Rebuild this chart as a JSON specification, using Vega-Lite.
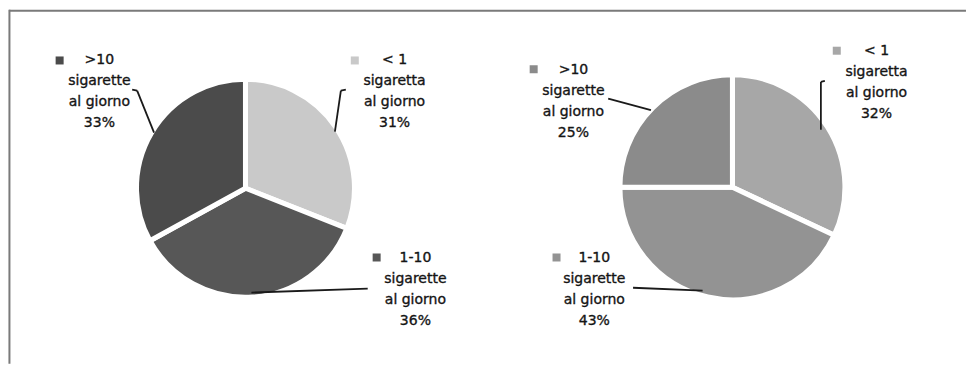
{
  "$schema": "https://vega.github.io/schema/vega-lite/v6.json",
  "width": 967,
  "height": 365,
  "autosize": {"type": "fit", "contains": "padding"},
  "padding": 0,
  "background": "white",
  "config": {
    "view": {"stroke": null},
    "text": {"font": "DejaVu Sans", "fontSize": 14, "lineHeight": 21, "lineBreak": "\n", "align": "center", "baseline": "alphabetic", "color": "#151515", "stroke": "#151515", "strokeWidth": 0.35},
    "rule": {"color": "#1a1a1a", "strokeWidth": 1.8}
  },
  "data": {
    "values": [
      {"grafico": "A", "categoria": "<1", "chiave": "A <1", "valore": 31, "ordine": 1, "etichetta": "< 1\nsigaretta\nal giorno\n31%"},
      {"grafico": "A", "categoria": "1-10", "chiave": "A 1-10", "valore": 36, "ordine": 2, "etichetta": "1-10\nsigarette\nal giorno\n36%"},
      {"grafico": "A", "categoria": ">10", "chiave": "A >10", "valore": 33, "ordine": 3, "etichetta": ">10\nsigarette\nal giorno\n33%"},
      {"grafico": "B", "categoria": "<1", "chiave": "B <1", "valore": 32, "ordine": 1, "etichetta": "< 1\nsigaretta\nal giorno\n32%"},
      {"grafico": "B", "categoria": "1-10", "chiave": "B 1-10", "valore": 43, "ordine": 2, "etichetta": "1-10\nsigarette\nal giorno\n43%"},
      {"grafico": "B", "categoria": ">10", "chiave": "B >10", "valore": 25, "ordine": 3, "etichetta": ">10\nsigarette\nal giorno\n25%"}
    ]
  },
  "layer": [
    {
      "data": {"values": [{}]},
      "mark": {"type": "rule", "color": "#7a7a7a", "strokeWidth": 2},
      "encoding": {
        "x": {"datum": -2.38, "type": "quantitative", "scale": {"domain": [-2.47, 7.2], "nice": false, "zero": false}, "axis": null},
        "x2": {"datum": 7.25},
        "y": {"datum": 1.82, "type": "quantitative", "scale": {"domain": [-1.72, 1.93], "nice": false, "zero": false}, "axis": null}
      }
    },
    {
      "data": {"values": [{}]},
      "mark": {"type": "rule", "color": "#7a7a7a", "strokeWidth": 2},
      "encoding": {
        "x": {"datum": -2.375, "type": "quantitative"},
        "y": {"datum": 1.83, "type": "quantitative"},
        "y2": {"datum": -1.8}
      }
    },
    {
      "transform": [{"filter": "datum.grafico === 'A'"}],
      "mark": {"type": "arc", "outerRadius": 109, "stroke": "white", "strokeWidth": 5},
      "encoding": {
        "x": {"datum": 0, "type": "quantitative"},
        "y": {"datum": 0, "type": "quantitative"},
        "theta": {"field": "valore", "type": "quantitative", "stack": true, "scale": {"domain": [0, 100]}},
        "order": {"field": "ordine", "type": "quantitative"},
        "color": {
          "field": "chiave", "type": "nominal", "legend": null,
          "scale": {
            "domain": ["A <1", "A 1-10", "A >10", "B <1", "B 1-10", "B >10"],
            "range": ["#c9c9c9", "#575757", "#4b4b4b", "#a7a7a7", "#939393", "#8b8b8b"]
          }
        }
      }
    },
    {
      "transform": [{"filter": "datum.grafico === 'B'"}],
      "mark": {"type": "arc", "outerRadius": 112.5, "stroke": "white", "strokeWidth": 5},
      "encoding": {
        "x": {"datum": 4.9, "type": "quantitative"},
        "y": {"datum": 0.01, "type": "quantitative"},
        "theta": {"field": "valore", "type": "quantitative", "stack": true},
        "order": {"field": "ordine", "type": "quantitative"},
        "color": {"field": "chiave", "type": "nominal", "legend": null}
      }
    },
    {"data": {"values": [{}]}, "mark": "rule", "encoding": {"x": {"datum": -1.14, "type": "quantitative"}, "y": {"datum": 1.01, "type": "quantitative"}, "x2": {"datum": -1.09}, "y2": {"datum": 1.0}}},
    {"data": {"values": [{}]}, "mark": "rule", "encoding": {"x": {"datum": -1.09, "type": "quantitative"}, "y": {"datum": 1.0, "type": "quantitative"}, "x2": {"datum": -0.92}, "y2": {"datum": 0.57}}},
    {"data": {"values": [{}]}, "mark": "rule", "encoding": {"x": {"datum": 1.01, "type": "quantitative"}, "y": {"datum": 1.01, "type": "quantitative"}, "x2": {"datum": 0.96}, "y2": {"datum": 1.0}}},
    {"data": {"values": [{}]}, "mark": "rule", "encoding": {"x": {"datum": 0.96, "type": "quantitative"}, "y": {"datum": 1.0, "type": "quantitative"}, "x2": {"datum": 0.9}, "y2": {"datum": 0.58}}},
    {"data": {"values": [{}]}, "mark": "rule", "encoding": {"x": {"datum": 1.23, "type": "quantitative"}, "y": {"datum": -1.03, "type": "quantitative"}, "x2": {"datum": 0.06}, "y2": {"datum": -1.07}}},
    {"data": {"values": [{}]}, "mark": "rule", "encoding": {"x": {"datum": 5.83, "type": "quantitative"}, "y": {"datum": 1.1, "type": "quantitative"}, "x2": {"datum": 5.79}, "y2": {"datum": 1.09}}},
    {"data": {"values": [{}]}, "mark": "rule", "encoding": {"x": {"datum": 5.79, "type": "quantitative"}, "y": {"datum": 1.09, "type": "quantitative"}, "x2": {"datum": 5.79}, "y2": {"datum": 0.6}}},
    {"data": {"values": [{}]}, "mark": "rule", "encoding": {"x": {"datum": 3.65, "type": "quantitative"}, "y": {"datum": 0.92, "type": "quantitative"}, "x2": {"datum": 4.08}, "y2": {"datum": 0.8}}},
    {"data": {"values": [{}]}, "mark": "rule", "encoding": {"x": {"datum": 3.9, "type": "quantitative"}, "y": {"datum": -1.02, "type": "quantitative"}, "x2": {"datum": 4.6}, "y2": {"datum": -1.05}}},
    {"transform": [{"filter": "datum.chiave === 'A >10'"}], "mark": {"type": "square", "size": 64, "opacity": 1}, "encoding": {"x": {"datum": -1.87, "type": "quantitative"}, "y": {"datum": 1.31, "type": "quantitative"}, "color": {"field": "chiave", "type": "nominal", "legend": null}}},
    {"transform": [{"filter": "datum.chiave === 'A <1'"}], "mark": {"type": "square", "size": 64, "opacity": 1}, "encoding": {"x": {"datum": 1.1, "type": "quantitative"}, "y": {"datum": 1.31, "type": "quantitative"}, "color": {"field": "chiave", "type": "nominal", "legend": null}}},
    {"transform": [{"filter": "datum.chiave === 'A 1-10'"}], "mark": {"type": "square", "size": 64, "opacity": 1}, "encoding": {"x": {"datum": 1.32, "type": "quantitative"}, "y": {"datum": -0.71, "type": "quantitative"}, "color": {"field": "chiave", "type": "nominal", "legend": null}}},
    {"transform": [{"filter": "datum.chiave === 'B >10'"}], "mark": {"type": "square", "size": 64, "opacity": 1}, "encoding": {"x": {"datum": 2.9, "type": "quantitative"}, "y": {"datum": 1.22, "type": "quantitative"}, "color": {"field": "chiave", "type": "nominal", "legend": null}}},
    {"transform": [{"filter": "datum.chiave === 'B <1'"}], "mark": {"type": "square", "size": 64, "opacity": 1}, "encoding": {"x": {"datum": 5.95, "type": "quantitative"}, "y": {"datum": 1.41, "type": "quantitative"}, "color": {"field": "chiave", "type": "nominal", "legend": null}}},
    {"transform": [{"filter": "datum.chiave === 'B 1-10'"}], "mark": {"type": "square", "size": 64, "opacity": 1}, "encoding": {"x": {"datum": 3.13, "type": "quantitative"}, "y": {"datum": -0.71, "type": "quantitative"}, "color": {"field": "chiave", "type": "nominal", "legend": null}}},
    {"transform": [{"filter": "datum.chiave === 'A >10'"}], "mark": "text", "encoding": {"x": {"datum": -1.47, "type": "quantitative"}, "y": {"datum": 1.27, "type": "quantitative"}, "text": {"field": "etichetta", "type": "nominal"}}},
    {"transform": [{"filter": "datum.chiave === 'A <1'"}], "mark": "text", "encoding": {"x": {"datum": 1.5, "type": "quantitative"}, "y": {"datum": 1.27, "type": "quantitative"}, "text": {"field": "etichetta", "type": "nominal"}}},
    {"transform": [{"filter": "datum.chiave === 'A 1-10'"}], "mark": "text", "encoding": {"x": {"datum": 1.71, "type": "quantitative"}, "y": {"datum": -0.76, "type": "quantitative"}, "text": {"field": "etichetta", "type": "nominal"}}},
    {"transform": [{"filter": "datum.chiave === 'B <1'"}], "mark": "text", "encoding": {"x": {"datum": 6.35, "type": "quantitative"}, "y": {"datum": 1.37, "type": "quantitative"}, "text": {"field": "etichetta", "type": "nominal"}}},
    {"transform": [{"filter": "datum.chiave === 'B >10'"}], "mark": "text", "encoding": {"x": {"datum": 3.3, "type": "quantitative"}, "y": {"datum": 1.17, "type": "quantitative"}, "text": {"field": "etichetta", "type": "nominal"}}},
    {"transform": [{"filter": "datum.chiave === 'B 1-10'"}], "mark": "text", "encoding": {"x": {"datum": 3.51, "type": "quantitative"}, "y": {"datum": -0.76, "type": "quantitative"}, "text": {"field": "etichetta", "type": "nominal"}}}
  ]
}
